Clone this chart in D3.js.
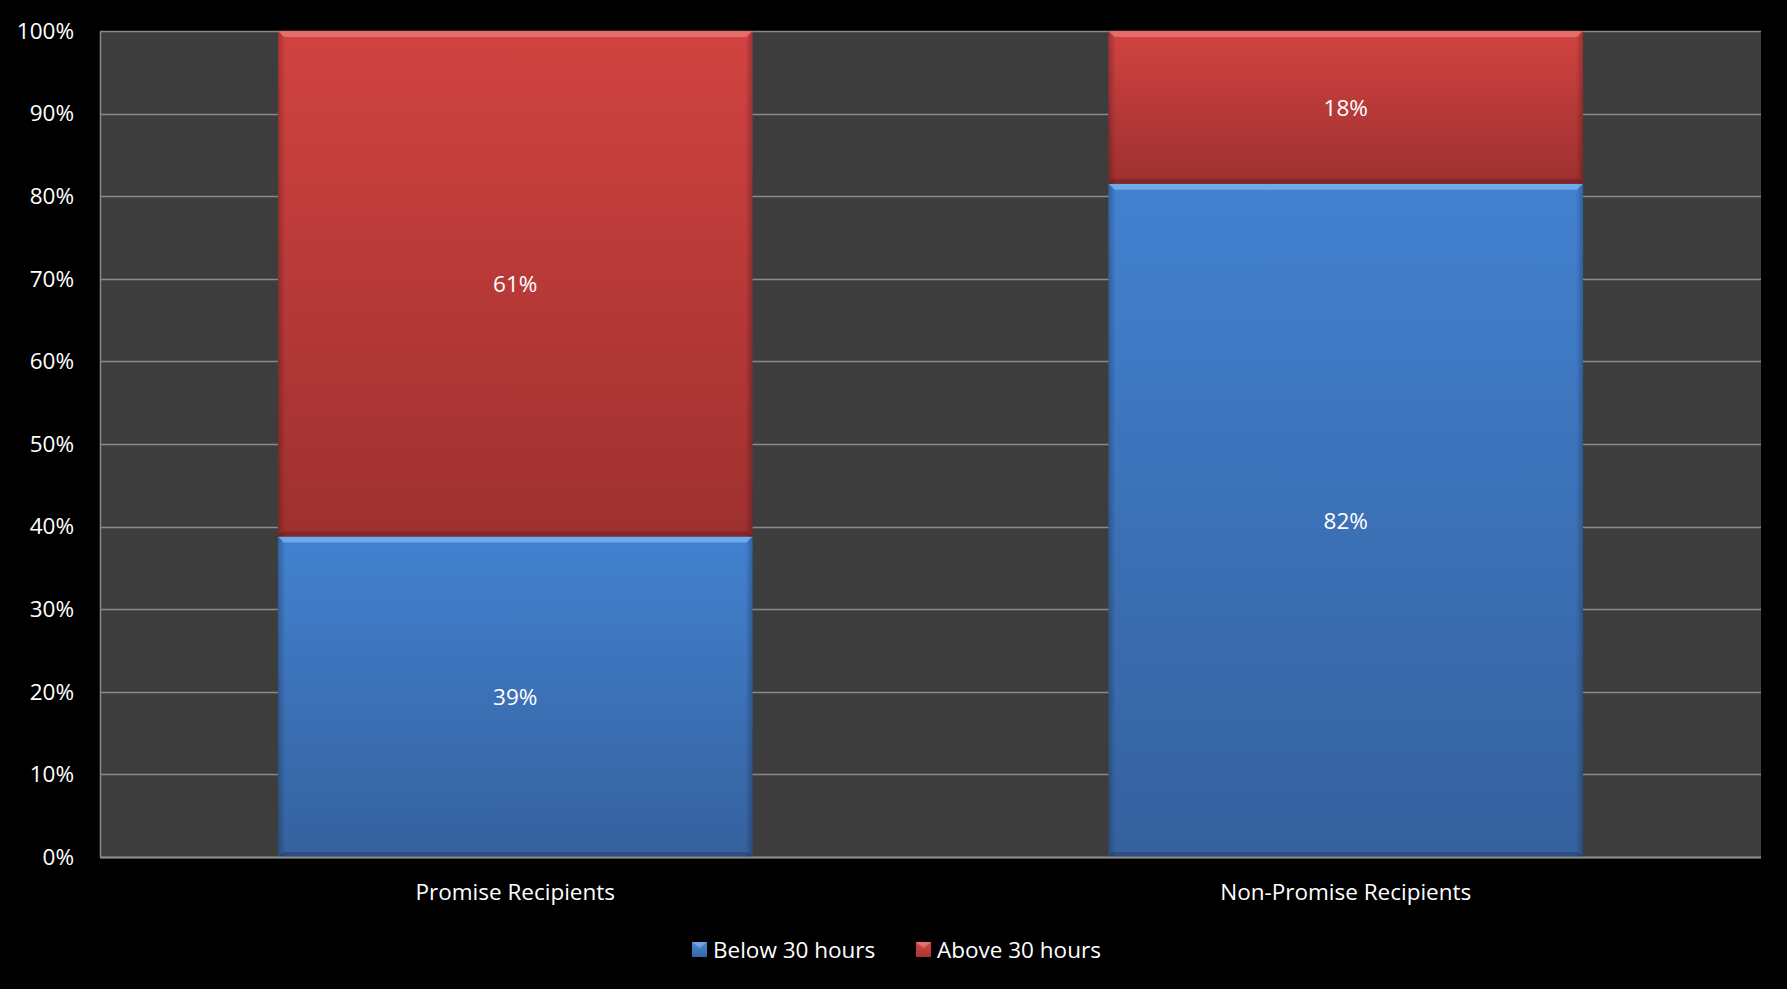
<!DOCTYPE html>
<html><head><meta charset="utf-8">
<script src="https://cdn.jsdelivr.net/npm/d3@7"></script>
<style>html,body{margin:0;padding:0;background:#000;}svg{display:block;}</style>
</head><body>
<script>
const categories = ["Promise Recipients", "Non-Promise Recipients"];
const below30 = [0.388, 0.815];
const above30 = [0.612, 0.185];
const belowLabels = ["39%", "82%"];
const aboveLabels = ["61%", "18%"];
const seriesNames = ["Below 30 hours", "Above 30 hours"];
const yTicks = [0,0.1,0.2,0.3,0.4,0.5,0.6,0.7,0.8,0.9,1.0];

const W = 1787, H = 989;
const m = {l:100, r:26, t:31, b:132};
const FONT = "'Open Sans', 'Noto Sans', sans-serif";
const FS = "22.5px";
const svg = d3.select("body").append("svg").attr("width", W).attr("height", H);
svg.append("rect").attr("width", W).attr("height", H).attr("fill", "#000");

const x = d3.scaleBand().domain(categories).range([m.l, W - m.r]).paddingInner(0.4286).paddingOuter(0.2143);
const y = d3.scaleLinear().domain([0, 1]).range([H - m.b, m.t]);

const defs = svg.append("defs");
function grad(id, c1, c2){
  const g = defs.append("linearGradient").attr("id", id).attr("x1",0).attr("y1",0).attr("x2",0).attr("y2",1);
  g.append("stop").attr("offset","0%").attr("stop-color",c1);
  g.append("stop").attr("offset","100%").attr("stop-color",c2);
}
grad("gBlue", "#4588db", "#3866a6");
grad("gRed", "#dc4644", "#a63332");
const side = defs.append("linearGradient").attr("id","gSide").attr("x1",0).attr("y1",0).attr("x2",1).attr("y2",0);
side.append("stop").attr("offset","0%").attr("stop-color","#000").attr("stop-opacity",0.28);
side.append("stop").attr("offset","1.5%").attr("stop-color","#000").attr("stop-opacity",0.05);
side.append("stop").attr("offset","98.5%").attr("stop-color","#000").attr("stop-opacity",0.05);
side.append("stop").attr("offset","100%").attr("stop-color","#000").attr("stop-opacity",0.28);

// plot area
svg.append("rect").attr("x", m.l).attr("y", m.t).attr("width", W - m.r - m.l).attr("height", H - m.b - m.t).attr("fill", "#3d3d3d");

// gridlines
svg.append("g").selectAll("line").data(yTicks).join("line")
  .attr("x1", m.l).attr("x2", W - m.r)
  .attr("y1", d => Math.round(y(d)) + 0.5).attr("y2", d => Math.round(y(d)) + 0.5)
  .attr("stroke", "#8a8a8a").attr("stroke-width", 1.5);

// y axis
const yAxis = svg.append("g").attr("transform", `translate(${m.l},0)`)
  .call(d3.axisLeft(y).tickValues(yTicks).tickFormat(d3.format(".0%")).tickSize(0).tickPadding(26));
yAxis.select(".domain").attr("stroke", "#8a8a8a").attr("stroke-width", 1.5);
yAxis.selectAll("text").attr("fill", "#fff").style("font-family", FONT).style("font-size", FS);

// bars
const stacks = [
  {vals: below30, labels: belowLabels, base: categories.map(() => 0), fill: "url(#gBlue)", hi: "#7fbaf5"},
  {vals: above30, labels: aboveLabels, base: below30, fill: "url(#gRed)", hi: "#ee7b79"}
];
const bars = svg.append("g");
stacks.forEach(s => {
  categories.forEach((c, i) => {
    const y0 = y(s.base[i]), y1 = y(s.base[i] + s.vals[i]);
    const bx = x(c), bw = x.bandwidth();
    bars.append("rect").attr("x", bx).attr("y", y1).attr("width", bw).attr("height", y0 - y1).attr("fill", s.fill);
    bars.append("rect").attr("x", bx).attr("y", y1).attr("width", bw).attr("height", y0 - y1).attr("fill", "url(#gSide)");
    bars.append("polygon")
      .attr("points", `${bx},${y1} ${bx+bw},${y1} ${bx+bw-6},${y1+6} ${bx+6},${y1+6}`)
      .attr("fill", s.hi).attr("opacity", 0.75);
    bars.append("polygon")
      .attr("points", `${bx},${y0} ${bx+bw},${y0} ${bx+bw-5},${y0-5} ${bx+5},${y0-5}`)
      .attr("fill", "#000").attr("opacity", 0.18);
    bars.append("text").attr("x", bx + bw / 2).attr("y", (y0 + y1) / 2)
      .attr("text-anchor", "middle").attr("dominant-baseline", "central")
      .attr("fill", "#fff").style("font-family", FONT).style("font-size", FS)
      .text(s.labels[i]);
  });
});

// x axis
const xAxis = svg.append("g").attr("transform", `translate(0,${H - m.b})`)
  .call(d3.axisBottom(x).tickSize(0).tickPadding(27));
xAxis.select(".domain").attr("stroke", "#8a8a8a").attr("stroke-width", 2).attr("d", `M${m.l},0.5H${W - m.r}`);
xAxis.selectAll("text").attr("fill", "#fff").style("font-family", FONT).style("font-size", FS);

// legend
const legend = svg.append("g");
const legendItems = [
  {name: seriesNames[0], fill: "url(#gBlue)", x: 692},
  {name: seriesNames[1], fill: "url(#gRed)", x: 916}
];
legendItems.forEach(li => {
  legend.append("rect").attr("x", li.x).attr("y", 942).attr("width", 15).attr("height", 15).attr("fill", li.fill);
  legend.append("polygon").attr("points", `${li.x},942 ${li.x+15},942 ${li.x+7.5},948`).attr("fill", "#fff").attr("opacity", 0.25);
  legend.append("text").attr("x", li.x + 21).attr("y", 949.5).attr("dominant-baseline", "central")
    .attr("fill", "#fff").style("font-family", FONT).style("font-size", FS).text(li.name);
});
</script>
</body></html>
